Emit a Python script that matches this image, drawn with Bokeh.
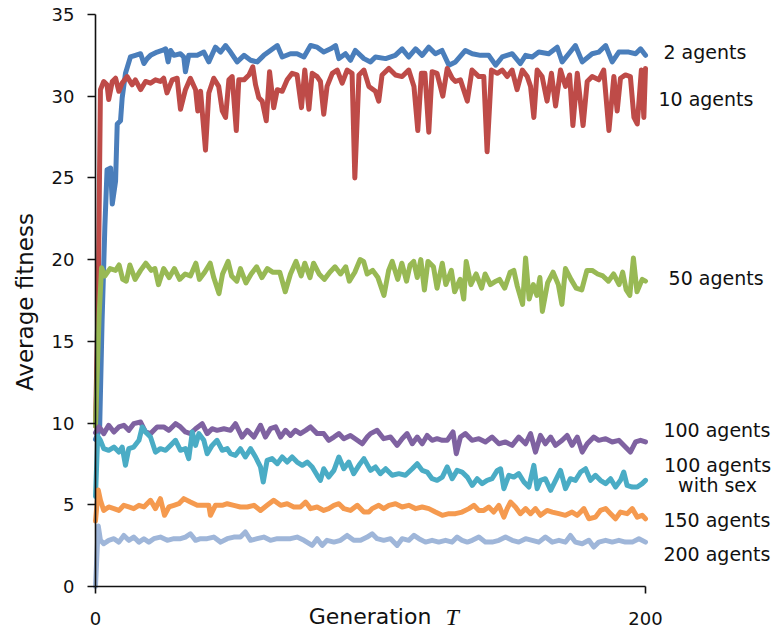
import math
from bokeh.plotting import figure
from bokeh.models import Range1d, FixedTicker, Label
from bokeh.embed import file_html
from bokeh.resources import INLINE

# (generation, average fitness)
agents_2 = [(0, 9.0), (1.5, 9.6), (2.4, 16.3), (3.4, 22.0), (4.2, 25.5), (5.5, 25.6), (6.1, 23.4), (7.3, 24.8), (7.9, 28.3), (9.1, 28.5), (9.7, 29.9), (10.9, 31.4), (12.7, 32.4), (14.5, 32.5), (16.4, 32.6), (17.6, 32.0), (18.8, 32.3), (20, 32.5), (22.4, 32.7), (24.2, 32.8), (25.5, 32.9), (26.4, 32.1), (27.3, 32.8), (28.5, 32.5), (30.9, 32.6), (32.1, 32.4), (32.7, 31.5), (33.9, 32.5), (37, 32.5), (39.4, 32.7), (41.2, 32.1), (43.6, 33.0), (45.5, 32.7), (47.3, 33.1), (49.1, 32.7), (51.5, 32.1), (54, 32.5), (56.4, 32.2), (58.8, 32.1), (61.2, 32.5), (63.6, 32.8), (66.1, 33.1), (67.9, 32.4), (70.9, 32.6), (73.3, 32.6), (75.8, 32.4), (78.2, 33.1), (80.6, 33.0), (83, 32.7), (85.5, 32.9), (87.3, 33.1), (88.5, 32.3), (90.9, 32.6), (92.7, 32.2), (94.5, 32.8), (97.6, 32.3), (100, 32.1), (101.8, 32.4), (105.5, 32.3), (109, 32.5), (111.5, 32.9), (113.9, 32.4), (116.4, 32.9), (118.8, 32.5), (121.2, 33.0), (123.6, 32.6), (126, 32.8), (128.5, 31.9), (130.9, 32.1), (134.5, 32.8), (137, 32.6), (140, 32.5), (143, 32.5), (145.5, 31.9), (147.9, 32.4), (151.5, 32.6), (154.5, 32.0), (156.4, 32.5), (158.8, 32.4), (161.2, 32.7), (164.8, 32.6), (167.9, 33.0), (169.7, 32.1), (172.1, 32.6), (174.5, 33.1), (177, 32.1), (180.6, 32.6), (183, 32.7), (185.5, 33.1), (187.9, 32.1), (190.3, 32.7), (193.9, 32.7), (196.4, 32.6), (198.2, 32.9), (200, 32.5)]

agents_10 = [(0, 9.8), (1.0, 18.0), (1.8, 30.4), (3.0, 30.9), (4.2, 30.7), (4.8, 29.8), (6.1, 30.9), (7.3, 31.1), (8.5, 30.3), (9.7, 30.8), (11.5, 31.2), (13.3, 30.7), (14.5, 31.0), (16.4, 30.4), (18.2, 30.9), (20, 30.8), (21.8, 31.0), (23.6, 30.9), (24.8, 31.1), (26, 30.2), (27.9, 31.0), (29.7, 31.1), (30.9, 29.2), (32.7, 30.4), (34.5, 31.1), (36.4, 30.4), (37.2, 29.1), (38.2, 30.3), (40, 26.7), (41.2, 30.2), (43, 31.1), (44.8, 30.6), (46.1, 29.1), (47.3, 28.7), (48.5, 31.0), (49.7, 31.2), (51.2, 27.9), (52.1, 31.0), (54, 31.0), (55.8, 31.3), (57.2, 31.8), (58.2, 30.7), (59.4, 29.9), (60.6, 29.7), (62.1, 28.5), (63.3, 31.5), (64.8, 29.3), (66.1, 30.4), (67.9, 30.3), (69.7, 31.0), (71.5, 31.4), (73.3, 31.3), (74.9, 29.3), (76.1, 31.6), (77.6, 29.2), (78.8, 31.4), (80.6, 31.2), (81.8, 30.9), (83, 28.9), (84.2, 30.6), (86.1, 31.4), (87.9, 31.6), (89.7, 30.8), (91.5, 31.6), (93.3, 31.4), (94.3, 25.0), (95.8, 31.3), (97.6, 31.6), (99.4, 30.6), (101.8, 30.3), (103, 29.7), (104.2, 31.3), (106.7, 31.7), (109.1, 31.3), (111.5, 31.2), (113.9, 31.6), (115.8, 30.6), (117.2, 27.9), (118.5, 31.4), (119.8, 31.4), (121.2, 27.8), (122.4, 31.5), (124.2, 31.4), (126.3, 30.0), (127.9, 31.7), (129.7, 31.1), (130.9, 30.9), (132.7, 31.0), (135.2, 29.7), (136.9, 31.6), (139.4, 31.2), (141.2, 31.2), (142.4, 26.6), (144, 31.6), (146.1, 31.4), (147.9, 31.6), (149.7, 31.2), (151.5, 31.6), (153.3, 30.4), (155.2, 31.6), (157, 31.2), (158.2, 30.6), (159.4, 28.7), (160.6, 31.6), (162.4, 31.2), (164.2, 29.7), (165.8, 31.4), (167.3, 29.4), (169.1, 31.6), (170.9, 30.6), (172.4, 31.3), (173.6, 28.2), (175.2, 31.4), (177.3, 28.2), (178.8, 30.9), (180.6, 31.2), (183, 31.0), (184.8, 31.6), (186.7, 27.9), (188.5, 31.2), (189.7, 29.1), (190.9, 31.1), (192.7, 31.3), (194.5, 31.2), (195.8, 28.7), (197, 28.3), (198.5, 31.6), (199.4, 28.7), (200, 31.7)]

agents_50 = [(0, 9.8), (1.3, 16.5), (2.2, 19.5), (3.4, 19.0), (5.3, 19.45), (7.3, 19.34), (8.6, 19.67), (9.9, 18.79), (11.2, 18.68), (12.5, 19.67), (14.4, 18.79), (16.4, 19.34), (18.3, 19.78), (20.3, 19.34), (21.6, 19.45), (22.9, 18.47), (24.8, 19.45), (26.8, 18.9), (28.7, 19.45), (30.6, 18.79), (32.6, 19.12), (34.5, 19.0), (36.5, 19.78), (37.8, 18.79), (39.7, 19.23), (41.7, 19.78), (43.0, 18.9), (44.9, 17.92), (46.2, 19.12), (48.2, 19.89), (49.5, 19.0), (51.4, 18.68), (52.7, 19.45), (54.7, 18.57), (56.6, 19.12), (58.6, 19.56), (60.5, 18.9), (62.5, 19.45), (64.4, 19.23), (67.0, 19.23), (69.0, 18.03), (70.9, 19.12), (72.9, 19.89), (74.8, 19.0), (76.1, 19.78), (78.0, 18.9), (79.3, 19.78), (81.3, 19.12), (83.2, 18.79), (85.2, 19.23), (87.1, 19.56), (89.1, 19.12), (91.0, 19.56), (92.3, 18.68), (94.3, 19.23), (96.2, 20.0), (97.5, 19.89), (98.8, 19.12), (100.8, 19.34), (102.7, 18.9), (104.9, 17.81), (106.6, 19.34), (107.9, 19.89), (109.9, 18.79), (111.4, 19.78), (113.1, 18.68), (114.4, 19.67), (115.7, 19.89), (117.0, 18.9), (118.3, 20.0), (119.6, 18.14), (120.9, 19.89), (122.9, 19.56), (124.2, 18.25), (126.1, 19.78), (127.4, 18.47), (129.4, 19.34), (130.6, 18.03), (132.6, 18.79), (133.9, 17.59), (134.8, 19.89), (136.5, 18.47), (138.4, 19.12), (140.4, 18.25), (141.7, 19.12), (143.6, 18.47), (145.6, 18.68), (146.9, 18.79), (148.8, 18.25), (150.8, 19.23), (152.1, 19.34), (153.4, 18.36), (155.3, 17.26), (156.4, 20.1), (157.7, 17.59), (159.2, 18.47), (160.5, 17.81), (161.6, 18.9), (162.5, 16.83), (164.4, 18.57), (166.4, 19.23), (168.3, 18.47), (169.6, 17.26), (170.9, 19.45), (172.9, 18.79), (174.8, 18.25), (176.8, 18.14), (178.7, 19.34), (180.6, 19.34), (182.6, 19.12), (184.5, 19.0), (186.5, 18.68), (188.4, 19.12), (190.4, 18.47), (191.7, 19.23), (193.0, 18.14), (194.3, 17.81), (195.6, 20.1), (196.9, 18.03), (198.8, 18.79), (200, 18.68)]

agents_100 = [(0, 9.4), (1.2, 9.76), (1.8, 9.65), (3.0, 9.35), (4.8, 9.86), (6.7, 9.45), (8.5, 9.76), (10.3, 9.86), (12.1, 9.55), (13.9, 9.96), (16.4, 10.06), (18.2, 9.45), (20, 9.35), (22.4, 9.76), (24.8, 9.76), (26.7, 9.55), (29.1, 9.96), (30.9, 9.76), (32.7, 9.45), (34.5, 9.35), (36.4, 9.65), (38.8, 9.96), (40.6, 9.35), (42.4, 9.65), (44.2, 9.55), (46.7, 9.65), (49.1, 9.55), (50.9, 9.96), (53.3, 9.14), (55.2, 9.55), (57.6, 9.14), (60, 9.86), (61.8, 9.14), (63.6, 9.65), (65.5, 9.76), (67.3, 9.14), (69.1, 9.55), (70.9, 9.24), (72.7, 9.55), (74.5, 9.35), (76.4, 9.55), (78.2, 9.76), (80.6, 9.35), (83, 9.35), (84.8, 8.94), (86.7, 9.14), (88.5, 9.35), (90.3, 9.04), (92.7, 9.24), (95.2, 8.94), (97, 8.73), (98.8, 9.14), (100, 9.35), (102.4, 9.55), (104.8, 9.04), (107.3, 9.14), (109.7, 8.63), (111.5, 9.04), (113.3, 9.35), (115.2, 8.73), (117, 9.14), (118.8, 8.73), (120.6, 9.24), (122.4, 8.94), (124.2, 9.04), (126.1, 8.94), (127.9, 8.94), (130, 9.45), (131.2, 8.12), (132.7, 9.14), (134.5, 9.35), (136.9, 8.94), (139.4, 9.04), (141.8, 8.84), (144.2, 9.14), (146.7, 8.73), (149.1, 8.84), (151.5, 8.63), (153.9, 9.14), (156.4, 8.73), (158.2, 9.35), (160, 8.22), (161.8, 9.24), (163.6, 8.73), (165.5, 9.14), (167.3, 8.63), (169.7, 8.94), (171.5, 9.24), (173.3, 8.63), (175.2, 9.14), (177, 8.22), (178.8, 8.73), (181.2, 9.14), (183, 8.94), (185.5, 9.04), (187.9, 8.84), (190.3, 8.94), (192.7, 8.53), (194.5, 8.22), (196.4, 8.84), (198.2, 8.94), (200, 8.84)]

agents_100_sex = [(0, 5.5), (0.8, 9.2), (1.8, 8.94), (3.0, 8.43), (4.8, 8.33), (6.7, 8.53), (8.5, 8.22), (9.7, 8.53), (10.9, 7.41), (12.1, 8.43), (13.9, 8.53), (15.8, 8.94), (17, 9.76), (18.2, 9.45), (20, 9.14), (21.8, 8.22), (23.6, 8.43), (25.5, 8.33), (27.3, 8.63), (29.1, 8.94), (30.9, 8.33), (32.7, 8.43), (33.9, 7.82), (35.2, 9.45), (36.4, 8.63), (37.6, 9.35), (39.4, 8.94), (40.6, 8.12), (42.4, 8.63), (44.2, 8.94), (46.1, 8.33), (47.9, 8.43), (49.1, 8.12), (50.9, 8.02), (52.7, 8.43), (54.5, 7.92), (56.4, 8.43), (58.2, 7.92), (60, 7.31), (61, 6.39), (62.4, 7.71), (64.2, 7.82), (66.1, 7.51), (67.9, 7.92), (69.7, 7.61), (71.5, 7.92), (73.3, 7.61), (75.2, 7.41), (77, 7.61), (78.8, 7.31), (80.6, 6.8), (81.8, 6.49), (83, 7.2), (84.8, 6.69), (86.7, 7.1), (88.5, 7.92), (90.3, 7.2), (92.1, 7.61), (93.9, 6.9), (95.8, 7.41), (97.6, 7.82), (100, 7.1), (101.8, 7.31), (103.6, 6.9), (105.5, 7.2), (107.9, 6.8), (110.3, 6.9), (112.7, 6.8), (115.2, 7.2), (117, 7.51), (118.8, 7.1), (120.6, 7.0), (122.4, 6.59), (124.2, 6.49), (126.1, 6.69), (127.9, 7.31), (129.7, 6.59), (131.5, 7.1), (133.3, 7.0), (135.2, 6.69), (137, 6.18), (138.8, 6.59), (140.6, 6.29), (142.4, 6.49), (144.2, 6.59), (146.1, 7.1), (147.3, 7.2), (148.5, 5.98), (150.3, 6.8), (152.1, 6.69), (153.9, 6.9), (155.8, 6.39), (157.6, 6.08), (159.4, 7.41), (160.6, 5.98), (161.8, 6.49), (163.6, 6.59), (165.5, 5.88), (167.3, 6.49), (169.1, 7.1), (170.9, 5.98), (172.7, 6.59), (174.5, 6.49), (176.4, 7.0), (178.2, 7.2), (180, 6.49), (181.8, 6.8), (183.6, 6.49), (185.5, 6.29), (187.3, 6.59), (189.1, 6.08), (190.9, 6.49), (192.1, 7.0), (193.3, 6.18), (195.2, 6.08), (197, 6.08), (198.8, 6.29), (200, 6.49)]

agents_150 = [(0, 4.0), (1.0, 5.9), (1.8, 5.27), (3.0, 4.65), (4.8, 4.86), (6.7, 4.76), (8.5, 4.65), (10.3, 4.96), (12.1, 4.86), (13.9, 4.76), (15.8, 4.96), (17.6, 4.86), (20, 5.27), (21.8, 4.76), (23.6, 5.37), (25.1, 4.35), (26.7, 4.86), (28.5, 4.96), (30.3, 5.06), (32.1, 5.37), (34.5, 5.16), (37, 4.96), (39.4, 4.96), (41.2, 4.96), (41.8, 4.35), (43.6, 4.96), (46.1, 4.96), (47.9, 5.06), (50.3, 4.96), (52.7, 4.86), (55.2, 4.86), (57.6, 4.96), (60, 4.65), (62.4, 4.96), (64.8, 5.27), (67.3, 4.96), (69.7, 5.06), (72.1, 4.86), (74.5, 4.86), (76.4, 5.16), (78.2, 4.76), (80.6, 4.86), (83, 4.65), (84.8, 4.76), (86.7, 4.96), (88.5, 5.06), (90.3, 4.76), (92.7, 4.65), (95.2, 4.96), (97.6, 4.55), (99.4, 4.55), (100.6, 4.76), (103, 4.96), (104.8, 4.76), (106.7, 4.96), (109.1, 5.06), (111.5, 4.86), (113.9, 4.96), (116.4, 4.76), (118.8, 4.86), (121.2, 4.76), (123.6, 4.55), (126.1, 4.35), (128.5, 4.45), (130.9, 4.45), (133.3, 4.55), (135.8, 4.76), (137.6, 4.96), (139.4, 4.65), (141.2, 4.65), (143, 4.86), (144.8, 4.55), (146.7, 4.96), (148.5, 4.24), (149.7, 4.76), (150.9, 5.16), (152.7, 4.86), (154.5, 4.45), (156.4, 4.76), (158.2, 4.45), (160, 4.76), (161.8, 4.35), (164.2, 4.65), (166.1, 4.55), (168.5, 4.45), (170.9, 4.35), (173.3, 4.55), (175.2, 4.35), (177.6, 4.76), (179.4, 4.14), (181.8, 4.24), (183.6, 4.65), (185.5, 4.76), (187.3, 4.45), (189.1, 4.14), (190.9, 4.55), (193.3, 4.45), (195.2, 4.76), (197, 4.24), (198.8, 4.35), (200, 4.14)]

agents_200 = [(0, 0.0), (1.0, 3.7), (1.8, 2.82), (3.0, 2.61), (4.8, 2.82), (6.7, 2.92), (8.5, 2.71), (10.3, 3.12), (12.1, 2.82), (13.9, 3.02), (15.8, 2.71), (17.6, 2.92), (19.4, 2.71), (21.2, 2.92), (23.6, 3.02), (26.1, 2.82), (28.5, 2.92), (30.9, 2.92), (32.7, 3.02), (34.5, 3.22), (36.4, 2.82), (38.2, 2.92), (40.6, 2.92), (43, 3.02), (45.5, 2.71), (47.9, 2.92), (50.3, 3.02), (52.7, 3.02), (54.5, 3.33), (56.4, 2.82), (58.8, 2.92), (61.2, 3.02), (63.6, 2.82), (66.1, 2.92), (68.5, 2.92), (70.9, 2.92), (73.3, 3.02), (75.8, 2.82), (78.8, 2.51), (80.6, 2.92), (82.4, 2.51), (84.2, 2.82), (86.7, 2.71), (89.1, 2.82), (91.5, 3.12), (93.9, 2.82), (96.4, 2.82), (98.8, 3.02), (100.6, 3.22), (102.4, 2.92), (104.8, 2.82), (107.3, 2.92), (109.7, 2.51), (111.5, 2.92), (113.9, 2.82), (115.8, 3.12), (117.6, 2.92), (120, 2.71), (122.4, 2.82), (124.8, 2.71), (127.3, 2.82), (129.7, 2.71), (131.5, 3.02), (133.3, 2.82), (135.2, 2.71), (137, 2.82), (139.4, 3.02), (141.8, 2.71), (144.2, 2.71), (146.7, 2.82), (149.1, 3.02), (151.5, 2.82), (153.9, 2.71), (156.4, 2.92), (158.8, 2.82), (161.2, 2.71), (163.6, 3.02), (166.1, 2.71), (168.5, 2.82), (170.9, 2.71), (172.7, 3.12), (174.5, 2.71), (177, 2.61), (179.4, 2.82), (181.2, 2.41), (183, 2.71), (185.5, 2.82), (187.9, 2.71), (190.3, 2.82), (192.7, 2.71), (195.2, 2.71), (197.6, 2.92), (200, 2.71)]

series_labels = ["2 agents", "10 agents", "50 agents", "100 agents", "100 agents\nwith sex", "150 agents", "200 agents"]
y_ticks = [0, 5, 10, 15, 20, 25, 30, 35]
x_ticks = [0, 200]
y_title = "Average fitness"
x_title = "Generation"
x_title_symbol = "T"

series = [agents_2, agents_10, agents_50, agents_100, agents_100_sex, agents_150, agents_200]
colors = ["#4a7ebb", "#be4b48", "#98b954", "#7f62a1", "#4aacc5", "#f59a4f", "#9fb6d9"]
# label anchor (generation, fitness) and alignment
label_pos = [(206.5, 32.7, "left"), (204.7, 29.8, "left"), (208.4, 18.85, "left"),
             (206.5, 9.55, "left"), (226.2, 6.8, "center"), (206.5, 4.04, "left"), (206.5, 1.96, "left")]

FONT = "DejaVu Sans"
PXX = 2.75     # pixels per generation
PXY = 16.34    # pixels per fitness unit
W, H = 772, 630
LEFT, TOP = 95, 14
x_start = -LEFT / PXX
x_end = (W - LEFT) / PXX
y_end = 35 + TOP / PXY
y_start = 35 - (H - TOP) / PXY

p = figure(width=W, height=H, x_range=Range1d(x_start, x_end), y_range=Range1d(y_start, y_end),
           output_backend="svg", toolbar_location=None,
           min_border_left=0, min_border_right=0, min_border_top=0, min_border_bottom=0)
p.outline_line_color = None
p.xgrid.visible = False
p.ygrid.visible = False
p.background_fill_color = "white"
p.border_fill_color = "white"

for pts, col in zip(series, colors):
    xs = [a for a, b in pts]
    ys = [b for a, b in pts]
    p.line(xs, ys, line_color=col, line_width=5, line_join="round", line_cap="round")

for ax in (p.xaxis, p.yaxis):
    ax.fixed_location = 0
    ax.axis_line_color = "#111111"
    ax.axis_line_width = 1.6
    ax.major_tick_line_color = "#111111"
    ax.major_tick_line_width = 1.6
    ax.minor_tick_line_color = None
    ax.major_tick_in = 0
    ax.major_label_text_font = FONT
    ax.major_label_text_font_size = "18px"
    ax.major_label_text_color = "#111111"

p.xaxis.ticker = FixedTicker(ticks=x_ticks)
p.xaxis.bounds = (0, 200)
p.xaxis.major_tick_out = 7
p.xaxis.major_label_standoff = 19

p.yaxis.ticker = FixedTicker(ticks=y_ticks)
p.yaxis.bounds = (0, 35)
p.yaxis.major_tick_out = 8
p.yaxis.major_label_standoff = 13

# axis titles
p.add_layout(Label(x=-25.5, y=17.4, text=y_title, angle=math.pi / 2, text_font=FONT,
                   text_font_size="23px", text_color="#111111", text_align="center",
                   text_baseline="middle"))
p.add_layout(Label(x=77.5, y=-1.87, text=x_title, text_font=FONT, text_font_size="22px",
                   text_color="#111111", text_align="left", text_baseline="alphabetic"))
p.add_layout(Label(x=127.3, y=-1.87, text=x_title_symbol, text_font="Liberation Serif",
                   text_font_size="24px", text_font_style="italic", text_color="#111111",
                   text_align="left", text_baseline="alphabetic"))

for text, (lx, ly, al) in zip(series_labels, label_pos):
    p.add_layout(Label(x=lx, y=ly, text=text, text_font=FONT, text_font_size="19px",
                       text_color="#111111", text_align=al, text_baseline="middle",
                       text_line_height=0.9))

open("out.html", "w").write(file_html(p, INLINE))
